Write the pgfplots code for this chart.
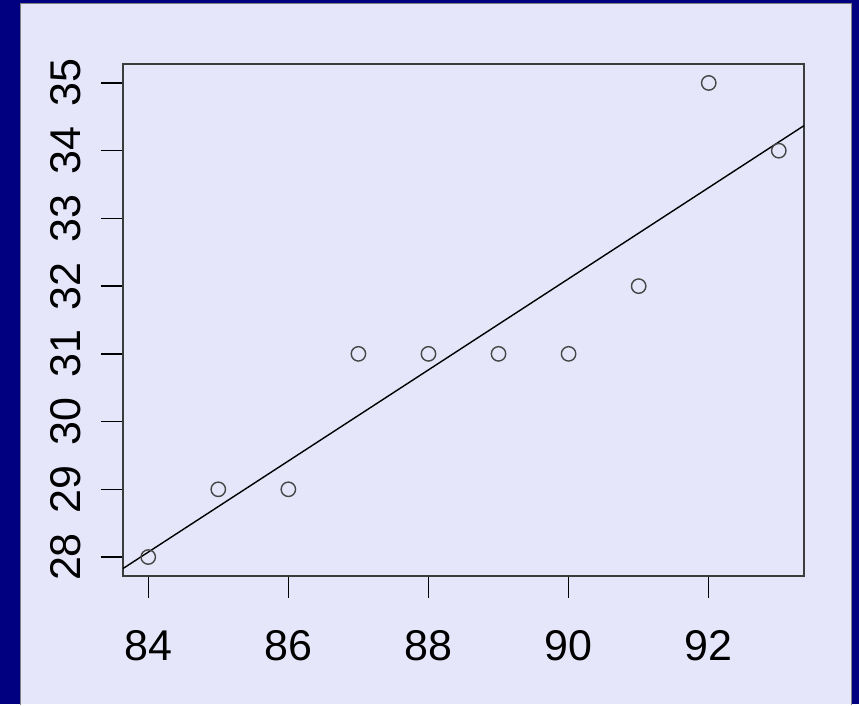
\documentclass[border=0pt]{standalone}
\usepackage{pgfplots}
\pgfplotsset{compat=1.18}
\usepackage{fontspec}
\setmainfont{Liberation Sans}
\definecolor{navyb}{RGB}{0,0,128}
\definecolor{lav}{RGB}{230,230,250}
\definecolor{frame}{RGB}{60,60,60}
\definecolor{pt}{RGB}{70,70,70}
\begin{document}
\begin{tikzpicture}[x=1pt,y=1pt]
\fill[navyb] (0,0) rectangle (859,704);
\fill[lav] (20,0) rectangle (851,701);
\draw[gray,line width=0.8pt] (20,-1) -- (20,701) -- (851,701) -- (851,-1);
\begin{axis}[
  at={(123pt,128pt)}, anchor=south west,
  scale only axis, width=681pt, height=512pt,
  xmin=83.64, xmax=93.36, ymin=27.72, ymax=35.28,
  xtick={84,86,88,90,92}, ytick={28,29,30,31,32,33,34,35},
  xtick pos=bottom, ytick pos=left,
  tick align=outside, major tick length=22pt,
  every tick/.style={black, line width=1.4pt},
  axis line style={frame, line width=1.4pt},
  tick label style={font=\fontsize{43}{50}\selectfont, /pgf/number format/assume math mode=true},
  xticklabel style={anchor=center, yshift=-48pt},
  yticklabel style={rotate=90, anchor=center, yshift=35pt},
  clip=true,
]
\addplot[only marks, mark=o, mark size=7.2pt, mark options={draw=pt, line width=1.4pt}] coordinates {
(84,28) (85,29) (86,29) (87,31) (88,31) (89,31) (90,31) (91,32) (92,35) (93,34)
};
\addplot[black, line width=1.4pt] coordinates {(83.64,27.83) (93.36,34.37)};
\end{axis}
\end{tikzpicture}
\end{document}
